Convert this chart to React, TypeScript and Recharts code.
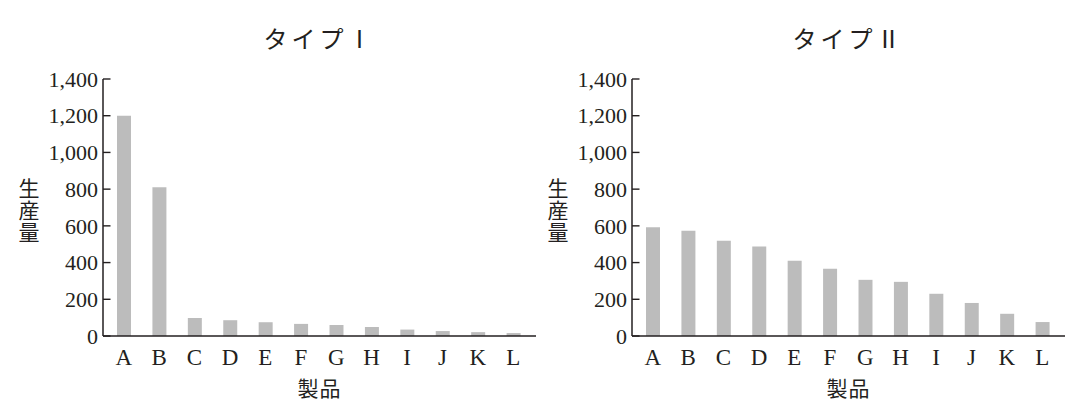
import { BarChart, Bar, XAxis, YAxis } from "recharts";

const products = ["A", "B", "C", "D", "E", "F", "G", "H", "I", "J", "K", "L"];
const typeOne = [1200, 810, 98, 86, 75, 66, 60, 49, 35, 27, 21, 16];
const typeTwo = [592, 574, 519, 487, 410, 366, 306, 295, 230, 180, 121, 76];
const yTicks = [0, 200, 400, 600, 800, 1000, 1200, 1400];

const INK = "#231f20";
const BAR = "#bcbcbc";
const SERIF = "'Liberation Serif', 'DejaVu Serif', serif";
const CJK = "'Noto Sans CJK JP', sans-serif";

function YTick(props: any) {
  const { x, y, payload } = props;
  return (
    <g>
      <line x1={x + 5} x2={x + 12.5} y1={y} y2={y} stroke={INK} strokeWidth={1.4} />
      <text x={x} y={y} dy="0.35em" textAnchor="end" fontFamily={SERIF} fontSize={22} fill={INK}>
        {Number(payload.value).toLocaleString("en-US")}
      </text>
    </g>
  );
}

// vertical, upright 生産量 beside the axis
function YLabel(props: any) {
  const vb = props.viewBox;
  const cx = vb.x + vb.width - 74;
  const cy = vb.y + vb.height / 2 + 3;
  return (
    <text x={cx} y={cy} fontFamily={CJK} fontSize={21} fill={INK} textAnchor="middle"
      style={{ writingMode: "vertical-rl", textOrientation: "upright" }} letterSpacing={1}>
      生産量
    </text>
  );
}

function XLabel(props: any) {
  const vb = props.viewBox;
  return (
    <text x={vb.x + vb.width / 2} y={vb.y + 51} dominantBaseline="central" textAnchor="middle"
      fontFamily={CJK} fontSize={21} fill={INK} letterSpacing={1}>
      製品
    </text>
  );
}

function Panel({ title, values, left }: { title: string; values: number[]; left: number }) {
  const data = products.map((p, i) => ({ name: p, value: values[i] }));
  return (
    <div style={{ position: "absolute", left, top: 0, width: 545, height: 410 }}>
      <div style={{
        position: "absolute", left: 103, top: 26, width: 433, textAlign: "center",
        fontFamily: CJK, fontSize: 24, lineHeight: "24px", color: INK, letterSpacing: 4,
      }}>{title}</div>
      <BarChart width={545} height={410} data={data} margin={{ top: 79, right: 9, bottom: 44, left: 0 }}>
        <XAxis dataKey="name" height={30} tickLine={false} tickSize={0} tickMargin={13}
          padding={{ left: 3, right: 5 }} axisLine={{ stroke: INK, strokeWidth: 1.5 }}
          tick={{ fontFamily: SERIF, fontSize: 23, fill: INK }} interval={0}
          label={{ content: XLabel }} />
        <YAxis width={103} domain={[0, 1400]} ticks={yTicks} tickSize={0} tickMargin={5}
          tickLine={false} axisLine={{ stroke: INK, strokeWidth: 1.5 }} tick={YTick}
          interval={0} label={{ content: YLabel }} />
        <Bar dataKey="value" fill={BAR} barSize={14} isAnimationActive={false} />
      </BarChart>
    </div>
  );
}

export default function App() {
  return (
    <div style={{ position: "absolute", left: 0, top: 0, width: 1083, height: 410, background: "#fff" }}>
      <Panel title="タイプⅠ" values={typeOne} left={0} />
      <Panel title="タイプⅡ" values={typeTwo} left={529} />
    </div>
  );
}
